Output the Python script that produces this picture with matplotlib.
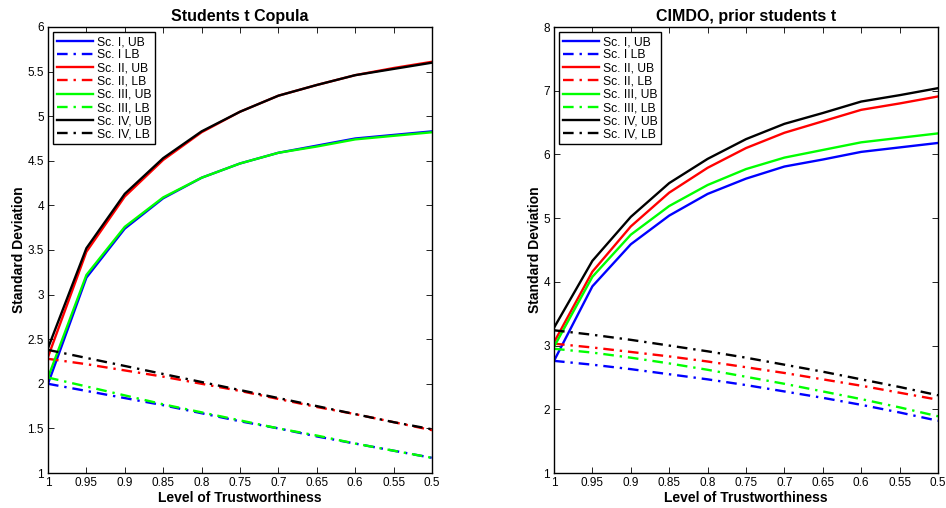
import matplotlib
matplotlib.use("Agg")
import matplotlib.pyplot as plt

plt.rcParams['font.family'] = ['Liberation Sans', 'DejaVu Sans']

trust = [1.0, 0.95, 0.9, 0.85, 0.8, 0.75, 0.7, 0.65, 0.6, 0.55, 0.5]
xticks = [1, 0.95, 0.9, 0.85, 0.8, 0.75, 0.7, 0.65, 0.6, 0.55, 0.5]
xticklabels = ['1', '0.95', '0.9', '0.85', '0.8', '0.75', '0.7', '0.65', '0.6', '0.55', '0.5']

labels = ['Sc. I, UB', 'Sc. I LB', 'Sc. II, UB', 'Sc. II, LB',
          'Sc. III, UB', 'Sc. III, LB', 'Sc. IV, UB', 'Sc. IV, LB']
colors = ['#0000ff', '#0000ff', '#ff0000', '#ff0000',
          '#00ff00', '#00ff00', '#000000', '#000000']

# Left panel: Students t Copula
t_sc1_ub = [2.00, 3.19, 3.74, 4.08, 4.31, 4.47, 4.59, 4.67, 4.75, 4.79, 4.83]
t_sc1_lb = [2.00, 1.92, 1.84, 1.76, 1.67, 1.58, 1.50, 1.41, 1.33, 1.25, 1.17]
t_sc2_ub = [2.30, 3.48, 4.10, 4.51, 4.82, 5.05, 5.23, 5.35, 5.46, 5.54, 5.61]
t_sc2_lb = [2.28, 2.22, 2.15, 2.08, 2.00, 1.92, 1.83, 1.74, 1.66, 1.57, 1.48]
t_sc3_ub = [2.07, 3.22, 3.76, 4.09, 4.31, 4.47, 4.59, 4.66, 4.74, 4.78, 4.82]
t_sc3_lb = [2.07, 1.97, 1.87, 1.77, 1.68, 1.59, 1.50, 1.42, 1.33, 1.25, 1.17]
t_sc4_ub = [2.40, 3.52, 4.13, 4.53, 4.83, 5.05, 5.23, 5.35, 5.46, 5.53, 5.60]
t_sc4_lb = [2.38, 2.29, 2.20, 2.11, 2.02, 1.93, 1.84, 1.75, 1.66, 1.57, 1.49]

# Right panel: CIMDO, prior students t
c_sc1_ub = [2.76, 3.93, 4.59, 5.04, 5.38, 5.62, 5.81, 5.92, 6.04, 6.11, 6.18]
c_sc1_lb = [2.76, 2.70, 2.63, 2.55, 2.47, 2.38, 2.28, 2.18, 2.07, 1.95, 1.82]
c_sc2_ub = [3.05, 4.16, 4.87, 5.40, 5.79, 6.10, 6.34, 6.52, 6.70, 6.80, 6.91]
c_sc2_lb = [3.03, 2.97, 2.90, 2.83, 2.75, 2.66, 2.57, 2.47, 2.37, 2.26, 2.15]
c_sc3_ub = [2.98, 4.08, 4.74, 5.19, 5.52, 5.77, 5.95, 6.07, 6.19, 6.26, 6.33]
c_sc3_lb = [2.95, 2.89, 2.81, 2.72, 2.62, 2.51, 2.40, 2.28, 2.16, 2.03, 1.89]
c_sc4_ub = [3.28, 4.33, 5.02, 5.55, 5.93, 6.24, 6.48, 6.65, 6.83, 6.93, 7.04]
c_sc4_lb = [3.24, 3.17, 3.09, 3.00, 2.91, 2.81, 2.70, 2.59, 2.47, 2.35, 2.22]

left_series = [t_sc1_ub, t_sc1_lb, t_sc2_ub, t_sc2_lb, t_sc3_ub, t_sc3_lb, t_sc4_ub, t_sc4_lb]
right_series = [c_sc1_ub, c_sc1_lb, c_sc2_ub, c_sc2_lb, c_sc3_ub, c_sc3_lb, c_sc4_ub, c_sc4_lb]

fig = plt.figure(figsize=(9.46, 5.08), dpi=100)
ax1 = fig.add_axes([48/946, 35/508, 384/946, 446/508])
ax2 = fig.add_axes([554/946, 35/508, 384/946, 446/508])

dashdot = (0, (4.5, 2.5, 1, 2.5))

def draw(ax, series, title, ylim, yticks):
    for i, (s, c, lab) in enumerate(zip(series, colors, labels)):
        ls = '-' if i % 2 == 0 else dashdot
        ax.plot(trust, s, color=c, linestyle=ls, lw=1.7, label=lab)
    ax.set_xlim(1, 0.5)
    ax.set_ylim(*ylim)
    ax.set_xticks(xticks)
    ax.set_xticklabels(xticklabels)
    ax.set_yticks(yticks)
    ax.set_yticklabels([('%g' % v) for v in yticks])
    ax.tick_params(direction='in', top=True, right=True, labelsize=8.5,
                   length=4, width=0.6, pad=3)
    for sp in ax.spines.values():
        sp.set_linewidth(1.0)
    ax.set_title(title, fontsize=11.5, fontweight='bold', pad=4)
    ax.set_xlabel('Level of Trustworthiness', fontsize=10, fontweight='bold', labelpad=1)
    ax.set_ylabel('Standard Deviation', fontsize=10, fontweight='bold', labelpad=1)
    leg = ax.legend(loc='upper left', fontsize=8.7, frameon=True, fancybox=False,
                    edgecolor='black', framealpha=1, handlelength=3.0,
                    borderaxespad=0.45, labelspacing=0.1, borderpad=0.3,
                    handletextpad=0.3)
    leg.get_frame().set_linewidth(1.0)

draw(ax1, left_series, 'Students t Copula', (1, 6), [1, 1.5, 2, 2.5, 3, 3.5, 4, 4.5, 5, 5.5, 6])
draw(ax2, right_series, 'CIMDO, prior students t', (1, 8), [1, 2, 3, 4, 5, 6, 7, 8])

fig.savefig('out.png', dpi=100)
